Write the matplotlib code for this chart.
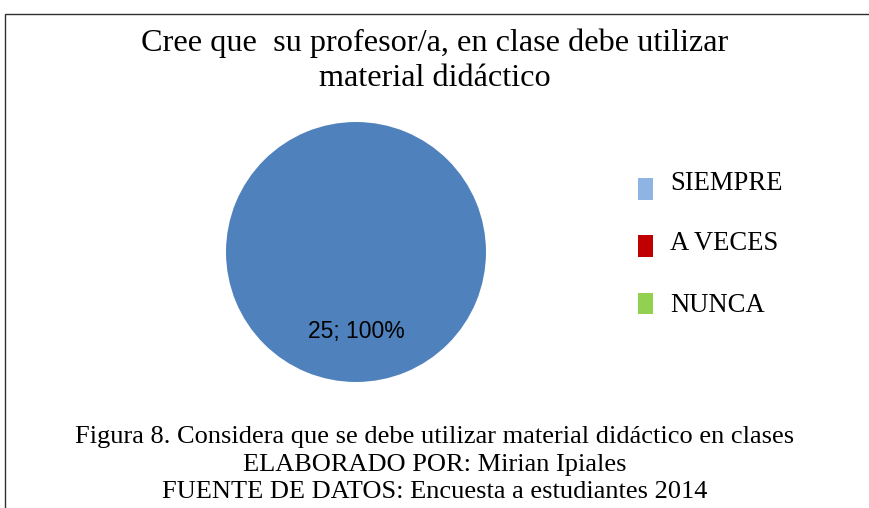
import matplotlib
matplotlib.use("Agg")
import matplotlib.pyplot as plt
from matplotlib.patches import Rectangle

# Data
categorias = ["SIEMPRE", "A VECES", "NUNCA"]
valores = [25, 0, 0]
colores_pie = ["#4F81BD", "#C0504D", "#9BBB59"]
colores_leyenda = ["#8EB4E3", "#C00000", "#92D050"]

titulo = "Cree que  su profesor/a, en clase debe utilizar\nmaterial didáctico"
pie_texto = ["Figura 8. Considera que se debe utilizar material didáctico en clases",
             "ELABORADO POR: Mirian Ipiales",
             "FUENTE DE DATOS: Encuesta a estudiantes 2014"]

W, H = 870, 508
fig = plt.figure(figsize=(W / 100, H / 100), dpi=100)
fig.patch.set_facecolor("white")

serif = "Liberation Serif"

# frame of the chart area
fig.patches.append(Rectangle((5.5 / W, -0.1), 1.2, 1 - 14.5 / H + 0.1,
                             transform=fig.transFigure, fill=False,
                             edgecolor="#303030", linewidth=1.0))

# pie
cx, cy, r = 356, 252, 130
ax = fig.add_axes([(cx - r) / W, (H - cy - r) / H, 2 * r / W, 2 * r / H])
total = sum(valores)


def etiqueta(pct):
    n = round(pct * total / 100)
    return f"{n}; {pct:.0f}%" if n > 0 else ""


wedges, _, autotexts = ax.pie(valores, colors=colores_pie, startangle=90,
                              counterclock=False, autopct=etiqueta,
                              pctdistance=0.61, radius=1.0,
                              textprops=dict(fontsize=16.5, family="Liberation Sans"))
ax.set_xlim(-1, 1)
ax.set_ylim(-1, 1)
ax.set_aspect("equal")
ax.axis("off")

# title
fig.text(435 / W, 1 - 61 / H, titulo, ha="center", va="center",
         fontsize=23.2, family=serif, linespacing=1.27)

# legend
for i, (cat, col) in enumerate(zip(categorias, colores_leyenda)):
    sy = 189 + i * 57
    fig.patches.append(Rectangle((638 / W, 1 - (sy + 10.5) / H), 15 / W, 21 / H,
                                 transform=fig.transFigure, facecolor=col,
                                 edgecolor="none"))
    ty = [184, 243, 305][i]
    fig.text(670 / W, 1 - ty / H, cat, ha="left", va="center",
             fontsize=19.2, family=serif)

# caption
for i, linea in enumerate(pie_texto):
    fig.text(435 / W, 1 - (437.5 + i * 27.5) / H, linea, ha="center", va="center",
             fontsize=19, family=serif)

fig.savefig("out.png", dpi=100)
